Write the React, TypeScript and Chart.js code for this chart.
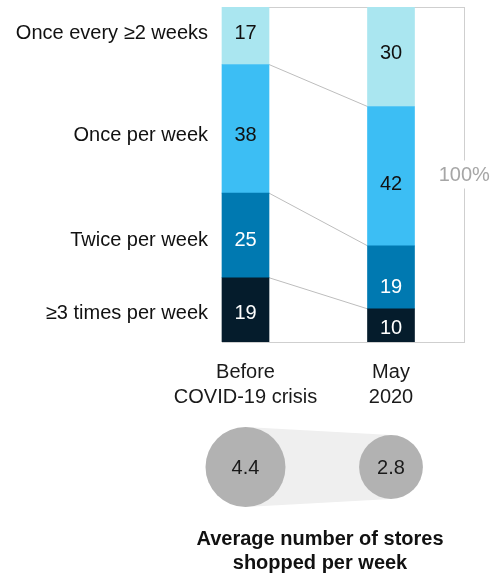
import React, { useEffect, useRef } from "react";
import { Chart, registerables } from "chart.js";

Chart.register(...registerables);

const periods = ["Before|COVID-19 crisis", "May|2020"];
const segments = ["≥3 times per week", "Twice per week", "Once per week", "Once every ≥2 weeks"];
const before = [19, 25, 38, 17];
const may2020 = [10, 19, 42, 30];
const segmentColors = ["#051C2C", "#0079B1", "#3CBEF4", "#AAE6F0"];
const labelColors = ["#ffffff", "#ffffff", "#111111", "#111111"];
const storesPerWeek = [4.4, 2.8];
const totalLabel = "100%";
const bubbleTitle = ["Average number of stores", "shopped per week"];
// small vertical nudges (px) of labels, as placed in the original design
const nudgeBefore = [3, 4, 6, -3];
const nudgeMay = [2, 9, 7, -4];

const FONT = "'Liberation Sans', Arial, sans-serif";

function shares(vals: number[]) {
  const t = vals.reduce((a, b) => a + b, 0);
  return vals.map((v) => (v / t) * 100);
}

export default function App() {
  const ref = useRef<HTMLCanvasElement | null>(null);
  useEffect(() => {
    const canvas = ref.current!;
    const sb = shares(before);
    const sm = shares(may2020);

    const overlay = {
      id: "overlay",
      beforeDatasetsDraw(chart: any) {
        const { ctx, chartArea } = chart;
        const ys = chart.scales.y;
        const meta0 = chart.getDatasetMeta(0);
        const b0 = meta0.data[0];
        const b1 = meta0.data[1];
        const leftEdge0 = b0.x - b0.width / 2;
        ctx.save();
        ctx.strokeStyle = "#CFCFCF";
        ctx.lineWidth = 1;
        ctx.strokeRect(Math.round(leftEdge0) + 0.5, Math.round(chartArea.top) + 0.5, Math.round(chartArea.right - leftEdge0), Math.round(chartArea.bottom - chartArea.top));
        ctx.strokeStyle = "#BDBDBD";
        let c0 = 0, c1 = 0;
        for (let i = 0; i < segments.length - 1; i++) {
          c0 += sb[i];
          c1 += sm[i];
          ctx.beginPath();
          ctx.moveTo(b0.x + b0.width / 2, ys.getPixelForValue(c0));
          ctx.lineTo(b1.x - b1.width / 2, ys.getPixelForValue(c1));
          ctx.stroke();
        }
        ctx.restore();
      },
      afterDatasetsDraw(chart: any) {
        const { ctx, chartArea } = chart;
        const xs = chart.scales.x;
        ctx.save();
        ctx.font = `20px ${FONT}`;
        ctx.textAlign = "center";
        ctx.textBaseline = "middle";
        chart.data.datasets.forEach((ds: any, di: number) => {
          const meta = chart.getDatasetMeta(di);
          meta.data.forEach((bar: any, i: number) => {
            const raw = i === 0 ? before[di] : may2020[di];
            const nudge = i === 0 ? nudgeBefore[di] : nudgeMay[di];
            ctx.fillStyle = labelColors[di];
            ctx.fillText(String(raw), bar.x, (bar.y + bar.base) / 2 + 1 + nudge);
          });
        });
        const meta0 = chart.getDatasetMeta(0);
        const lx = meta0.data[0].x - meta0.data[0].width / 2 - 14;
        ctx.fillStyle = "#111111";
        ctx.textAlign = "right";
        chart.data.datasets.forEach((ds: any, di: number) => {
          const bar = chart.getDatasetMeta(di).data[0];
          ctx.fillText(segments[di], lx, (bar.y + bar.base) / 2 + 1 + nudgeBefore[di]);
        });
        const fx = chartArea.right;
        const fy = (chartArea.top + chartArea.bottom) / 2;
        ctx.textAlign = "center";
        ctx.fillStyle = "#ffffff";
        ctx.fillRect(fx - 3, fy - 14, 6, 28);
        ctx.fillStyle = "#A6A6A6";
        ctx.fillText(totalLabel, fx + 0.5, fy + 1);
        ctx.fillStyle = "#1a1a1a";
        periods.forEach((p, i) => {
          const x = xs.getPixelForValue(i);
          p.split("|").forEach((line, li) => {
            ctx.fillText(line, x, chartArea.bottom + 30 + li * 25);
          });
        });
        const cy = chartArea.bottom + 125;
        const k = 40 / Math.sqrt(4.4);
        const pts = storesPerWeek.map((v, i) => ({ x: xs.getPixelForValue(i), r: k * Math.sqrt(v) }));
        ctx.fillStyle = "#EFEFEF";
        ctx.beginPath();
        ctx.moveTo(pts[0].x, cy - pts[0].r);
        ctx.lineTo(pts[1].x, cy - pts[1].r);
        ctx.lineTo(pts[1].x, cy + pts[1].r);
        ctx.lineTo(pts[0].x, cy + pts[0].r);
        ctx.closePath();
        ctx.fill();
        pts.forEach((p, i) => {
          ctx.fillStyle = "#B2B2B2";
          ctx.beginPath();
          ctx.arc(p.x, cy, p.r, 0, Math.PI * 2);
          ctx.fill();
          ctx.fillStyle = "#1a1a1a";
          ctx.fillText(storesPerWeek[i].toFixed(1), p.x, cy + 1);
        });
        ctx.font = `bold 20px ${FONT}`;
        ctx.fillStyle = "#111111";
        const tx = 320;
        bubbleTitle.forEach((line, li) => {
          ctx.fillText(line, tx, chartArea.bottom + 197 + li * 24);
        });
        ctx.restore();
      },
    };

    const chart = new Chart(canvas, {
      type: "bar",
      data: {
        labels: periods,
        datasets: segments.map((s, i) => ({
          label: s,
          data: [sb[i], sm[i]],
          backgroundColor: segmentColors[i],
          barThickness: 47,
          borderWidth: 0,
        })),
      },
      options: {
        responsive: false,
        animation: false,
        events: [],
        layout: { padding: { left: 172.75, right: 26.25, top: 7, bottom: 235 } },
        plugins: { legend: { display: false }, tooltip: { enabled: false } },
        scales: {
          x: { stacked: true, display: false },
          y: { stacked: true, display: false, min: 0, max: 100 },
        },
      },
      plugins: [overlay],
    } as any);
    return () => chart.destroy();
  }, []);
  return (
    <div style={{ position: "absolute", left: 0, top: 0, width: 490, height: 577 }}>
      <canvas ref={ref} width={490} height={577} style={{ width: 490, height: 577 }} />
    </div>
  );
}
